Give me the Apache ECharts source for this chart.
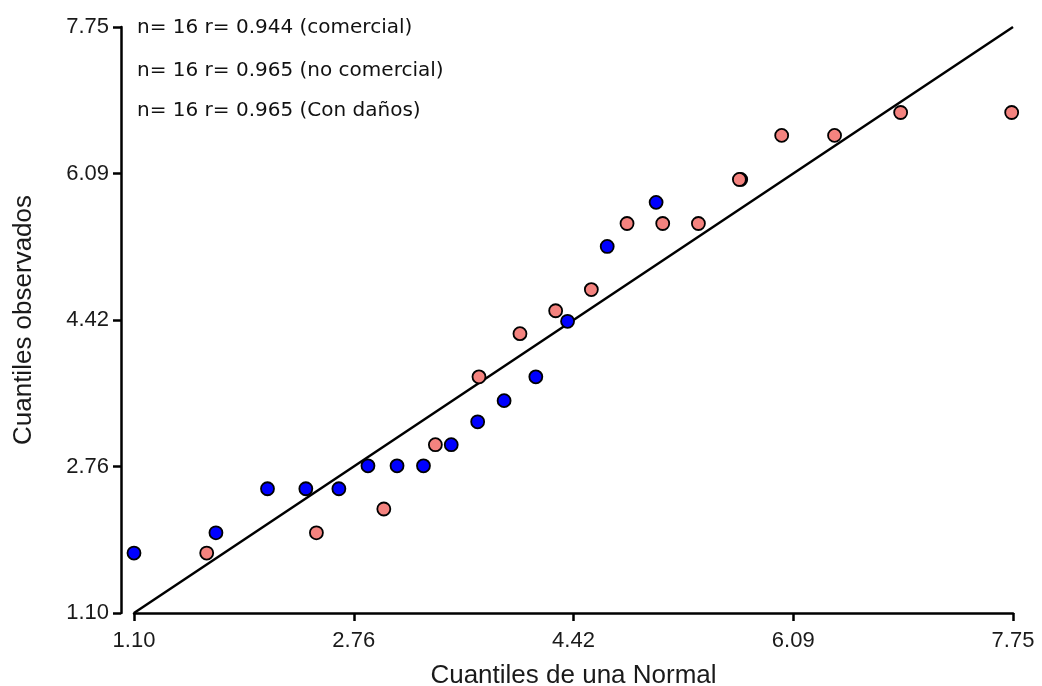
<!DOCTYPE html>
<html>
<head>
<meta charset="utf-8">
<script src="https://cdn.jsdelivr.net/npm/echarts@6/dist/echarts.min.js"></script>
<style>
html,body{margin:0;padding:0;background:#fff;}
#chart{width:1042px;height:686px;}
</style>
</head>
<body>
<div id="chart"></div>
<script>
// Data
var comercialX = [1.10, 1.72, 2.11, 2.40, 2.65, 2.87, 3.09, 3.29, 3.50, 3.70, 3.90, 4.14, 4.38, 4.68, 5.05, 5.69];
var comercialY = [1.78, 2.01, 2.51, 2.51, 2.51, 2.77, 2.77, 2.77, 3.01, 3.27, 3.51, 3.78, 4.41, 5.26, 5.76, 6.02];
var noComercialX = [1.65, 2.48, 2.99, 3.38, 3.71, 4.02, 4.29, 4.56, 4.83, 5.10, 5.37, 5.68, 6.00, 6.40, 6.90, 7.74];
var noComercialY = [1.78, 2.01, 2.28, 3.01, 3.78, 4.27, 4.53, 4.77, 5.52, 5.52, 5.52, 6.02, 6.52, 6.52, 6.78, 6.78];
var refLine = [1.10, 7.75];
var tickValues = [1.10, 2.7625, 4.425, 6.0875, 7.75];
var tickLabels = ['1.10', '2.76', '4.42', '6.09', '7.75'];
var annotations = [
  'n= 16 r= 0.944 (comercial)',
  'n= 16 r= 0.965 (no comercial)',
  'n= 16 r= 0.965 (Con daños)'
];
var xTitle = 'Cuantiles de una Normal';
var yTitle = 'Cuantiles observados';

function zip(a, b) { return a.map(function (v, i) { return [v, b[i]]; }); }
function fmt(v) {
  var best = 0, d = Infinity;
  tickValues.forEach(function (t, i) { var e = Math.abs(t - v); if (e < d) { d = e; best = i; } });
  return tickLabels[best];
}

var FONT = '"Liberation Sans", Arial, sans-serif';
var axisCommon = function (name, isY) {
  return {
    type: 'value',
    min: 1.10,
    max: 7.75,
    name: name,
    nameLocation: 'middle',
    nameGap: isY ? 84 : 50,
    nameTextStyle: { fontFamily: FONT, fontSize: 26, color: '#1a1a1a' },
    offset: isY ? 13 : 0,
    axisLine: { show: true, lineStyle: { color: '#000', width: 2.5 } },
    axisTick: { show: true, length: 8, lineStyle: { color: '#000', width: 2.5 }, customValues: tickValues },
    axisLabel: { show: true, margin: isY ? 12 : 17, fontFamily: FONT, fontSize: 22, color: '#1a1a1a',
                 customValues: tickValues, formatter: fmt },
    splitLine: { show: false }
  };
};

var chart = echarts.init(document.getElementById('chart'), null, { renderer: 'canvas' });
chart.setOption({
  animation: false,
  backgroundColor: '#fff',
  grid: { left: 134, right: 29, top: 27, bottom: 73, containLabel: false, outerBoundsMode: 'none' },
  xAxis: axisCommon(xTitle, false),
  yAxis: axisCommon(yTitle, true),
  graphic: annotations.map(function (t, i) {
    return {
      type: 'text', left: 137, top: [18, 61, 101][i],
      style: { text: t, font: '20px "DejaVu Sans", sans-serif', fill: '#111' }
    };
  }),
  series: [
    {
      type: 'line', data: zip(refLine, refLine), symbol: 'none', z: 1,
      lineStyle: { color: '#000', width: 2.5 }
    },
    {
      name: 'comercial', type: 'scatter', data: zip(comercialX, comercialY), z: 2,
      symbol: 'circle', symbolSize: 13, clip: false,
      itemStyle: { color: '#0000ff', borderColor: '#000', borderWidth: 1.8, opacity: 1 }
    },
    {
      name: 'no comercial', type: 'scatter', data: zip(noComercialX, noComercialY), z: 3,
      symbol: 'circle', symbolSize: 13, clip: false,
      itemStyle: { color: '#f4837f', borderColor: '#000', borderWidth: 1.8, opacity: 1 }
    }
  ]
});
</script>
</body>
</html>
